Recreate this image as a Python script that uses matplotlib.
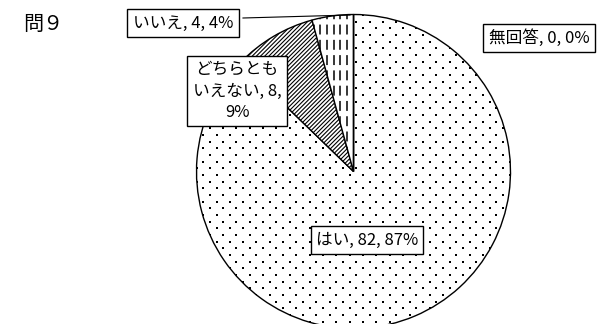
import numpy as np
import matplotlib
matplotlib.use('Agg')
from matplotlib import pyplot as plt

plt.rcParams['font.family'] = ['Noto Sans CJK JP', 'DejaVu Sans']
plt.rcParams['hatch.linewidth'] = 0.8

_TITLE = '問９'
_labels = ['はい', 'どちらともいえない', 'いいえ', '無回答']
_box_text = ['はい, 82, 87%', 'どちらとも\nいえない, 8,\n9%', 'いいえ, 4, 4%', '無回答, 0, 0%']
_values = [82, 8, 4, 0]

W, H = 599, 324
fig = plt.figure(figsize=(W / 100, H / 100), dpi=100)
ax = fig.add_axes([0, 0, 1, 1])
ax.set_xlim(0, W)
ax.set_ylim(0, H)
ax.axis('off')

cx, cy, r = 353.5, 152.5, 157
wedges, _ = ax.pie(_values, center=(cx, cy), radius=r, startangle=90,
                   counterclock=False, normalize=True,
                   colors=['white'] * 4,
                   wedgeprops=dict(edgecolor='black', linewidth=1.0))
ax.set_xlim(0, W)
ax.set_ylim(0, H)
ax.set_aspect('auto')

# dotted fill for "はい"
xs, ys = [], []
for j, y in enumerate(np.arange(cy - r, cy + r, 6.67)):
    off = 0 if j % 2 == 0 else 6.67
    for x in np.arange(cx - r + off, cx + r, 13.33):
        xs.append(x)
        ys.append(y)
dots = ax.scatter(xs, ys, s=1.5, c='black', marker='s', linewidths=0, zorder=3)
dots.set_clip_path(wedges[0])

# diagonal hatch for "どちらともいえない"
wedges[1].set_hatch('////////')

# dashed verticals for "いいえ"
vx = np.arange(cx - 60, cx, 6.7)
vl = ax.vlines(vx, cy, cy + r + 5, colors='black', linestyles=(0, (6.5, 3.5)),
               linewidth=1.1, zorder=3)
vl.set_clip_path(wedges[2])

fs = 12
box = dict(boxstyle='square,pad=0.32', facecolor='white', edgecolor='black', linewidth=1.0)
ax.text(23, 300, _TITLE, fontsize=14.5, va='center', ha='left')
ax.text(367, 84, _box_text[0], fontsize=fs, ha='center', va='center', bbox=box, zorder=5)
ax.text(237, 233, _box_text[1], fontsize=fs, ha='center', va='center', bbox=box,
        linespacing=1.35, zorder=5)
ax.plot([243, 350], [306, 309], color='black', linewidth=0.8, zorder=4)
ax.text(183, 301, _box_text[2], fontsize=fs, ha='center', va='center', bbox=box, zorder=5)
ax.text(539, 286, _box_text[3], fontsize=fs, ha='center', va='center', bbox=box, zorder=5)

fig.savefig('out.png', dpi=100)
